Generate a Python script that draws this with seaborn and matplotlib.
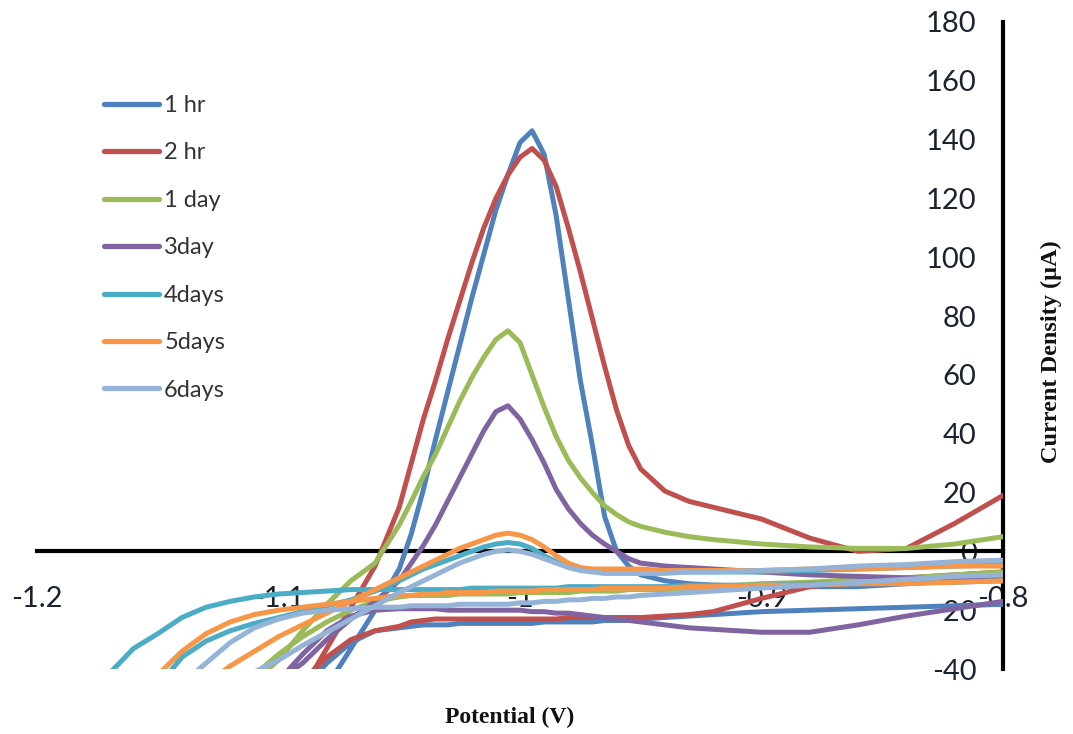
import matplotlib
matplotlib.use("Agg")
import matplotlib.pyplot as plt
from matplotlib.lines import Line2D
from matplotlib import font_manager
import pandas as pd
import seaborn as sns

# Potential grid (V) shared by both sweep directions
potential = [-1.20, -1.18, -1.16, -1.15, -1.14, -1.13, -1.12, -1.11, -1.10, -1.09,
             -1.08, -1.07, -1.06, -1.05, -1.045, -1.04, -1.035, -1.03, -1.025, -1.02,
             -1.015, -1.01, -1.005, -1.00, -0.995, -0.99, -0.985, -0.98, -0.975, -0.97,
             -0.965, -0.96, -0.955, -0.95, -0.94, -0.93, -0.92, -0.90, -0.88, -0.86,
             -0.84, -0.82, -0.80]

# Current (uA) on the anodic (positive-going) and cathodic (negative-going) sweeps
hr1_anodic = [-200, -160, -130, -118, -106, -95, -84, -73, -63, -54,
              -46, -33, -20, -6, 6, 21, 38, 54, 70, 86,
              101, 116, 128, 139, 143, 135, 114, 86, 58, 36,
              12, 0, -5, -8, -10, -11, -11.5, -12, -12, -12,
              -11, -10, -9]
hr1_cathodic = [-220, -170, -135, -120, -105, -92, -80, -68, -57, -47,
                -38, -31, -27, -26, -25.5, -25, -25, -25, -24.5, -24.5,
                -24.5, -24.5, -24.5, -24.5, -24.5, -24, -24, -24, -24, -24,
                -23.5, -23.5, -23.5, -23, -22.5, -22, -21.5, -20.5, -20, -19.5,
                -19, -18.5, -18]

hr2_anodic = [-190, -150, -120, -108, -96, -85, -74, -64, -55, -47,
              -33, -19, -5, 15, 30, 45, 58, 72, 85, 98,
              110, 120, 128, 134, 137, 133, 124, 110, 95, 79,
              63, 48, 36, 28, 20.5, 17, 15, 11, 4.5, 0,
              1, 9.5, 19]
hr2_cathodic = [-210, -165, -128, -113, -99, -86, -74, -63, -53, -44,
                -36, -30, -27, -25.5, -24, -23.5, -23, -23, -23, -23,
                -23, -23, -23, -23, -23, -23, -23, -22.5, -22.5, -22.5,
                -22.5, -22.5, -22.5, -22.5, -22, -21.5, -20.5, -16, -12, -10.5,
                -9, -8, -7]

day1_anodic = [-150, -110, -85, -74, -64, -56, -50, -44, -37, -27,
               -18, -10, -4, 9, 17, 25.5, 33, 42, 51, 59,
               66, 72, 75, 71, 60, 49, 39, 31, 25, 20,
               15.5, 12.5, 10, 8.5, 6.5, 5, 4, 2.5, 1.5, 1,
               1, 2.5, 5]
day1_cathodic = [-160, -120, -92, -80, -69, -59, -50, -42, -35, -29,
                 -24, -20, -17, -15.5, -15, -15, -15, -15, -14.5, -14.5,
                 -14.5, -14.5, -14.5, -14, -14, -14, -14, -14, -13.5, -13.5,
                 -13.5, -13.5, -13, -13, -13, -12.5, -12, -11, -10.5, -9.5,
                 -9, -8, -7]

day3_anodic = [-170, -130, -100, -88, -77, -67, -58, -50, -44, -38,
               -30, -23, -17, -10, -4, 2, 9, 17, 25, 33,
               41, 47.5, 49.5, 45, 38, 30, 21, 14.5, 9.5, 5.5,
               2.5, 0, -2.5, -4, -5, -5.5, -6, -7, -8, -8.5,
               -9, -9.5, -10]
day3_cathodic = [-190, -145, -110, -96, -84, -73, -63, -53, -44, -35,
                 -27, -22, -20, -19.5, -19.5, -19.5, -19.5, -20, -20, -20,
                 -20, -20, -20, -20, -20.5, -20.5, -21, -21, -21.5, -22,
                 -22.5, -23, -23.5, -24, -25, -26, -26.5, -27.5, -27.5, -25,
                 -22, -19.5, -17]

days4_anodic = [-120, -80, -56, -46, -36, -30.5, -27, -24.5, -22.5, -20.5,
                -18.5, -16.5, -13.5, -10, -8, -6, -4.5, -3, -1.5, 0,
                1.5, 2.5, 3, 2.5, 1, -1.5, -3.5, -5, -6, -6.5,
                -7, -7, -7, -7, -7, -7, -7, -7, -6.5, -6,
                -5.5, -5, -4.5]
days4_cathodic = [-85, -50, -33, -28, -22.5, -19, -17, -15.5, -14.5, -14,
                  -13.5, -13, -13, -13, -13, -13, -13, -13, -13, -12.5,
                  -12.5, -12.5, -12.5, -12.5, -12.5, -12.5, -12.5, -12, -12, -12,
                  -12, -12, -12, -12, -12, -11.5, -11.5, -11.5, -11, -11,
                  -10.5, -10.5, -10]

days5_anodic = [-130, -90, -65, -58, -51, -45, -39, -34, -29, -25,
                -21, -17, -13, -9, -7, -5, -3, -1, 1, 2.5,
                4, 5.5, 6.2, 5.5, 4, 1.5, -1.5, -4, -5.5, -6,
                -6, -6, -6, -6, -6.5, -6.5, -6.5, -6.5, -6, -6,
                -5.5, -5, -5]
days5_cathodic = [-110, -72, -50, -42, -34, -28, -24, -21.5, -20, -19,
                  -18, -17, -16, -15, -15, -14.5, -14.5, -14, -14, -14,
                  -14, -13.5, -13.5, -13.5, -13.5, -13, -13, -13, -13, -13,
                  -12.5, -12.5, -12.5, -12.5, -12.5, -12, -12, -11.5, -11.5, -11,
                  -11, -10.5, -10]

days6_anodic = [-140, -100, -72, -62, -53, -47, -43, -41, -37, -32,
                -27.5, -23, -18.5, -14, -12, -10, -8, -6, -4, -2.5,
                -1, 0, 0.5, 0, -1, -2.5, -4, -5.5, -6.5, -7,
                -7.5, -7.5, -7.5, -7.5, -7.5, -7, -7, -6.5, -6, -5,
                -4.5, -3.5, -3]
days6_cathodic = [-120, -85, -60, -52, -45, -38, -31, -26, -23, -21,
                  -20, -19.5, -19, -19, -18.5, -18.5, -18.5, -18.5, -18, -18,
                  -18, -18, -18, -17.5, -17.5, -17, -17, -16.5, -16.5, -16,
                  -16, -15.5, -15.5, -15, -14.5, -14, -13.5, -12.5, -11.5, -10.5,
                  -9.5, -8.5, -8]

series_labels = ["1 hr", "2 hr", "1 day", "3day", "4days", "5days", "6days"]
series_colors = ["#4F81BD", "#C0504D", "#9BBB59", "#8064A2", "#4BACC6", "#F79646", "#95B3D7"]

x_ticks = [-1.2, -1.1, -1.0, -0.9, -0.8]
x_tick_labels = ["-1.2", "-1.1", "-1", "-0.9", "-0.8"]
y_ticks = [-40, -20, 0, 20, 40, 60, 80, 100, 120, 140, 160, 180]
y_tick_labels = ["-40", "-20", "0", "20", "40", "60", "80", "100", "120", "140", "160", "180"]

sweeps = [
    (hr1_anodic, hr1_cathodic),
    (hr2_anodic, hr2_cathodic),
    (day1_anodic, day1_cathodic),
    (day3_anodic, day3_cathodic),
    (days4_anodic, days4_cathodic),
    (days5_anodic, days5_cathodic),
    (days6_anodic, days6_cathodic),
]

# Each voltammogram is one closed loop: cathodic sweep from -0.8 V down,
# then the anodic sweep back up to -0.8 V.
records = []
for label, (anodic, cathodic) in zip(series_labels, sweeps):
    assert len(anodic) == len(potential) and len(cathodic) == len(potential), label
    loop_pot = potential[::-1] + potential
    loop_cur = cathodic[::-1] + anodic
    for step, (e, i) in enumerate(zip(loop_pot, loop_cur)):
        records.append({"series": label, "step": step, "potential": e, "current": i})
df = pd.DataFrame(records)

sns.set_style("white")
installed = {f.name for f in font_manager.fontManager.ttflist}
sans = "Liberation Sans Narrow" if "Liberation Sans Narrow" in installed else "Lato"
plt.rcParams["font.family"] = [sans, "DejaVu Sans"]

W, H = 1073, 734
fig = plt.figure(figsize=(W / 100, H / 100), dpi=100)
ax = fig.add_axes([37 / W, 1 - 669 / H, (1003 - 37) / W, (669 - 22) / H])

sns.lineplot(data=df, x="potential", y="current", hue="series",
             hue_order=series_labels, palette=series_colors,
             sort=False, estimator=None, linewidth=3.6, legend=False, ax=ax)
# curves sit above the axis lines and tick labels
for line in ax.lines:
    line.set_zorder(3)

ax.set_xlim(-1.2, -0.8)
ax.set_ylim(-40, 180)
ax.set_xlabel("")
ax.set_ylabel("")

# Axes cross at zero current; current axis drawn at -0.8 V
ax.spines["top"].set_visible(False)
ax.spines["right"].set_visible(False)
ax.spines["left"].set_position(("data", -0.8))
ax.spines["bottom"].set_position(("data", 0))
for side in ("left", "bottom"):
    ax.spines[side].set_linewidth(3)
    ax.spines[side].set_color("black")
    ax.spines[side].set_zorder(1)

ax.set_xticks(x_ticks)
ax.set_xticklabels(x_tick_labels)
ax.set_yticks(y_ticks)
ax.set_yticklabels(y_tick_labels)
ax.tick_params(axis="x", direction="out", length=8, width=2.5, pad=17,
               labelsize=21, labelcolor="#1c2330", color="black")
ax.tick_params(axis="y", direction="out", length=8, width=2.5, pad=11,
               labelsize=21, labelcolor="#1c2330", color="black")

fig.text(510 / W, 1 - 717 / H, "Potential (V)", ha="center", va="center",
         family="Liberation Serif", fontweight="bold", fontsize=17, color="#111111")
fig.text(1051 / W, 1 - 352 / H, "Current Density (\u00b5A)", rotation=90,
         ha="center", va="center", family="Liberation Serif", fontweight="bold",
         fontsize=17.5, color="#111111")

handles = [Line2D([], [], color=c, linewidth=3.8) for c in series_colors]
leg = fig.legend(handles, series_labels, loc="upper left",
                 bbox_to_anchor=(104 / W, 1 - 95 / H), frameon=False,
                 prop={"family": sans, "size": 17}, handlelength=2.35,
                 handletextpad=0.2, labelspacing=1.12, borderpad=0, borderaxespad=0)
for t in leg.get_texts():
    t.set_color("#333333")

fig.savefig("out.png", dpi=100)
